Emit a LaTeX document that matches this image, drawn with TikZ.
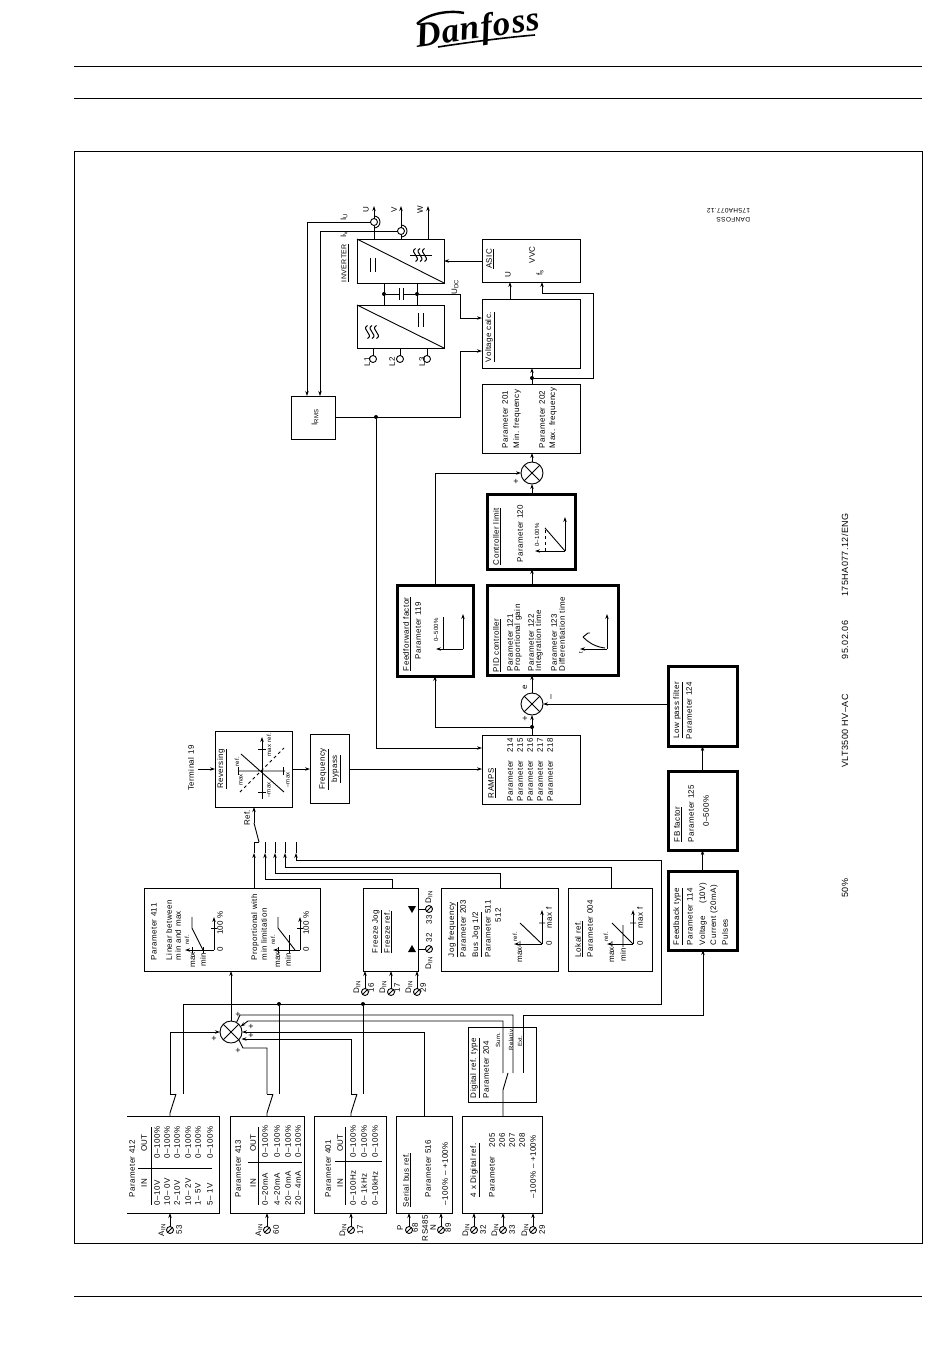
\documentclass[tikz,border=0pt]{standalone}
\usepackage{fontspec}
\setmainfont[LetterSpace=5]{Liberation Sans}
\newfontfamily\logofont[LetterSpace=3]{Liberation Serif}
\usetikzlibrary{
  arrows.meta
}
\newcommand{\ain}{A\textsubscript{IN}}
\newcommand{\din}{D\textsubscript{IN}}
\tikzset{
  wavesym/.pic={
    \foreach \dx in {-4.5,0,4.5} \draw[line width=1pt] (\dx,-6.5) .. controls (\dx-7,-2.5) and (\dx+7,2.5) .. (\dx,6.5);
  }
}
\begin{document}
\begin{tikzpicture}[x=1pt, y=-1pt, line width=.9pt, >={Stealth[length=5pt,width=3.4pt]},
    every node/.style={inner sep=0pt, outer sep=0pt, font=\fontsize{8}{9}\selectfont},
    lbl/.style={rotate=90, anchor=west},
    mid/.style={rotate=90, anchor=center},
    tiny/.style={rotate=90, anchor=center, font=\fontsize{6}{7}\selectfont},
    flip/.style={rotate=180, anchor=west, font=\fontsize{6.5}{7}\selectfont},
    big/.style={rotate=90, anchor=center, font=\fontsize{9}{10}\selectfont},
    field/.style={draw, minimum width=#1},
    heavy/.style={draw, line width=3pt},
    sumjoint/.style={draw, circle, minimum size=22pt, path picture={
      \draw (path picture bounding box.north west) -- (path picture bounding box.south east);
      \draw (path picture bounding box.north east) -- (path picture bounding box.south west);}},
    term/.style={draw, circle, minimum size=7pt, path picture={
      \draw (path picture bounding box.north east) -- (path picture bounding box.south west);}},
    ring/.style={draw, circle, minimum size=7pt},
    dotj/.style={fill, circle, minimum size=4pt}]
\fill[white] (0,0) rectangle (950,1360);
\useasboundingbox (0,0) rectangle (950,1360);
\draw (74,66) -- (922,66) (74,98) -- (922,98) (74,1296) -- (922,1296);
\draw (74,151) rectangle (922,1243);
\node [font=\logofont\bfseries\itshape\fontsize{35}{38}\selectfont, rotate=8] (logo) at (478,30) {Danfoss};
\draw [line width=2.4pt] (417,24) .. controls (428,13) and (450,10) .. (464,13);
\draw [line width=1.6pt] (438,47) .. controls (470,42) and (510,37) .. (535,35);
\node [field=87pt, minimum height=44pt] (inverter) at (400.5,261) {};
\node [field=87pt, minimum height=43pt] (rectifier) at (400.5,326.5) {};
\node [field=98pt, minimum height=43pt] (asic) at (531,260.5) {};
\node [field=98pt, minimum height=69pt] (vcalc) at (531,333.5) {};
\node [field=98pt, minimum height=69pt] (par201) at (531,418.5) {};
\node [field=44pt, minimum height=43pt] (irms) at (313,417.5) {};
\node [sumjoint] (sumtop) at (532,473) {};
\node [field=88pt, minimum height=75pt, heavy] (ctrl) at (531,531.5) {};
\node [field=131pt, minimum height=90pt, heavy] (pid) at (552.5,630) {};
\node [field=76pt, minimum height=91pt, heavy] (feedfwd) at (435,630.5) {};
\node [sumjoint] (summid) at (532,704) {};
\node [field=69pt, minimum height=80pt, heavy] (lowpass) at (702.5,706) {};
\node [field=69pt, minimum height=79pt, heavy] (fbfactor) at (702.5,810.5) {};
\node [field=69pt, minimum height=79pt, heavy] (fbtype) at (702.5,910.5) {};
\node [field=98pt, minimum height=69pt] (ramps) at (531,770) {};
\node [field=77pt, minimum height=76pt] (revers) at (253.5,769) {};
\node [field=39pt, minimum height=69pt] (bypass) at (329.5,769) {};
\node [field=176pt, minimum height=83pt] (par411) at (232,929.5) {};
\node [field=55pt, minimum height=83pt] (freeze) at (391,929.5) {};
\node [field=117pt, minimum height=83pt] (jog) at (499.5,929.5) {};
\node [field=84pt, minimum height=83pt] (lokal) at (610,929.5) {};
\node [sumjoint] (sumlow) at (231,1032) {};
\node [field=68pt, minimum height=75pt] (digtype) at (502,1064.5) {};
\node [minimum width=92pt, minimum height=97pt] (par412) at (173,1164.5) {};
\draw (par412.north west) -- (par412.north east) -- (par412.south east) -- (par412.south west);
\node [field=74pt, minimum height=97pt] (par413) at (267,1164.5) {};
\node [field=72pt, minimum height=97pt] (par401) at (350,1164.5) {};
\node [field=56pt, minimum height=97pt] (serial) at (424,1164.5) {};
\node [field=80pt, minimum height=97pt] (digital) at (502,1164.5) {};
\foreach \x/\y/\txt [count=\i] in {
  490/362/\underline{Voltage calc.},
  505/448/Parameter 201, 517/448/Min. frequency, 542/448/Parameter 202, 553/448/Max. frequency,
  497/565/\underline{Controller limit}, 520/562/Parameter 120,
  497/672/\underline{PID controller}, 510/671/Parameter 121, 518/671/Proportional gain,
  531/671/Parameter 122, 539/671/Integration time, 554/671/Parameter 123, 562/671/Differentiation time,
  407/671/\underline{Feedforward factor}, 418/659/Parameter 119,
  678/738/\underline{Low pass filter}, 689/739/Parameter 124,
  678/842/\underline{FB factor}, 691/842/Parameter 125,
  678/945/\underline{Feedback type}, 690/945/Parameter 114, 703/945/Voltage \quad\,(10V), 714/945/Current (20mA), 725/945/Pulses,
  492/798/\underline{RAMPS}, 510/801/Parameter\quad 214, 520/801/Parameter\quad 215, 530/801/Parameter\quad 216, 540/801/Parameter\quad 217, 550/801/Parameter\quad 218,
  154/960/Parameter 411, 169/960/Linear between, 178/960/min and max, 255/960/Proportional with, 264/960/min limitation,
  377/953/\underline{Freeze Jog}, 388/953/\underline{Freeze ref.},
  453/957/\underline{Jog frequency}, 463/957/Parameter 203, 477/957/{\underline{Bus Jog 1/2}}, 488/957/Parameter 511, 498/922/512,
  579/957/\underline{Lokal ref.}, 590/957/Parameter 004,
  132/1197/Parameter 412, 238/1197/Parameter 413, 328/1197/Parameter 401,
  407/1207/\underline{Serial bus ref.}, 428/1197/Parameter 516, 445/1205/--100\% -- +100\%,
  475/1197/\underline{4 x Digital ref.}, 492/1197/Parameter, 492/1147/205, 502/1147/206, 512/1147/207, 522/1147/208, 533/1198/--100\% -- +100\%,
  475/1098/\underline{Digital ref. type}, 486/1098/Parameter 204,
  157/1205/0--10V, 167/1205/10-- 0V, 177/1205/2--10V, 188/1205/10-- 2V, 198/1205/1-- 5V, 210/1205/5-- 1V,
  157/1158/0--100\%, 167/1158/0--100\%, 177/1158/0--100\%, 188/1158/0--100\%, 198/1158/0--100\%, 210/1158/0--100\%,
  265/1205/0--20mA, 277/1205/4--20mA, 288/1205/20-- 0mA, 298/1205/20-- 4mA,
  265/1157/0--100\%, 277/1157/0--100\%, 288/1157/0--100\%, 298/1157/0--100\%,
  353/1205/0--100Hz, 364/1205/0-- 1kHz, 375/1205/0--10kHz,
  353/1157/0--100\%, 364/1157/0--100\%, 375/1157/0--100\%
}
  \node [lbl] (lab\i) at (\x,\y) {\txt};
\foreach \x/\y/\txt [count=\i] in {
  191/768/Terminal 19, 222/769/\underline{Reversing}, 247/818/Ref.,
  324/769/\underline{Frequency}, 336/769/\underline{bypass},
  315/417/I\textsubscript{RMS}, 490/259/\underline{ASIC}, 532/255/VVC, 508/275/U, 540/273/f\textsubscript{s},
  455/287/U\textsubscript{DC}, 344/217/I\textsubscript{U}, 344/234/I\textsubscript{V},
  366/210/U, 394/210/V, 420/210/W, 367/362/L1, 392/362/L2, 422/362/L3,
  706/811/0--500\%, 525/687/e,
  144/1183/IN, 144/1143/OUT, 253/1183/IN, 253/1143/OUT, 340/1183/IN, 340/1143/OUT,
  357/987/\din, 371/988/16, 383/987/\din, 397/988/17, 409/987/\din, 423/988/29,
  429/963/\din, 429/938/32, 429/920/33, 429/897/\din,
  400/1228/P, 415/1228/68, 425/1228/RS485, 433/1228/N, 448/1228/89,
  193/960/max, 203/960/min, 220/923/100 \%, 220/949/0,
  278/960/max, 288/960/min, 306/923/100 \%, 306/949/0,
  549/918/max f, 549/943/0, 520/955/max, 640/918/max f, 640/943/0, 612/955/max, 623/955/min
}
  \node [mid] (mid\i) at (\x,\y) {\txt};
\foreach \x/\y/\txt [count=\i] in {
  269/745/max ref., 237/762/ref., 241/780/max, 269/790/--max, 288/780/--max,
  187/940/ref., 273/940/ref., 515/937/ref., 606/937/ref.,
  537/535/0--100\%, 436/630/0--500\%, 581/653/t,
  498/1040/Sum., 511/1040/Relativ, 520/1041/Ext.
}
  \node [tiny] (tiny\i) at (\x,\y) {\txt};
\foreach \x/\y/\txt [count=\i] in {845/731/VLT3500 HV--AC, 845/640/95.02.06, 845/555/{175HA077.12/ENG}, 845/888/50\%}
  \node [big] (big\i) at (\x,\y) {\txt};
\node [lbl, font=\fontsize{7}{8}\selectfont] (invlabel) at (345,282) {\underline{INVERTER}};
\node [flip] (stamp1) at (750,220) {DANFOSS};
\node [flip] (stamp2) at (750,211) {175HA077.12};
\foreach \x/\y [count=\i] in {516/482, 525/719, 238/1015, 251/1027, 251/1036, 238/1051, 214/1039}
  \node [font=\fontsize{9}{9}\selectfont] (plus\i) at (\x,\y) {+};
\node [mid, font=\fontsize{9}{9}\selectfont] (minus) at (552,697) {--};
\draw (357,239) -- (444,283) (357,305) -- (444,348);
\draw (370,258) -- (370,272) (375,258) -- (375,272) (418,313) -- (418,327) (423,313) -- (423,327);
\pic at (420,255) {wavesym};
\pic at (372,332) {wavesym};
\draw (410,255) -- (432,255);
\node [ring] (ringu) at (374,222) {};
\node [ring] (ringv) at (401,231) {};
\draw (ringu.south) ++(0,2.5) arc (90:-90:6);
\draw (ringv.south) ++(0,2.5) arc (90:-90:6);
\draw [->] (ringu.north) -- (374,206);
\draw [->] (ringv.north) -- (401,206);
\draw (ringu.south) -- (ringu.south |- inverter.north);
\draw (ringv.south) -- (ringv.south |- inverter.north);
\draw [->] (inverter.north -| 428,0) -- (428,206);
\coordinate (iubend) at (307,222);
\coordinate (ivbend) at (320,231);
\draw [->] (ringu.west) -- (iubend) -- (iubend |- irms.north);
\draw [->] (ringv.west) -- (ivbend) -- (ivbend |- irms.north);
\node [dotj] (dcleft) at (384,294) {};
\node [dotj] (dcright) at (417,294) {};
\draw (dcleft |- inverter.south) -- (dcleft |- rectifier.north);
\draw (dcright |- inverter.south) -- (dcright |- rectifier.north);
\draw (dcleft) -- (399,294) (403,294) -- (dcright);
\draw (399,288) -- (399,300) (403,288) -- (403,300);
\coordinate (udcbend) at (460,294);
\draw [->] (dcright) -- (udcbend) -- (udcbend |- 0,318) -- (vcalc.west |- 0,318);
\foreach \n/\x in {l1/373, l2/400, l3/427} {
  \node [ring] (\n) at (\x,359) {};
  \draw (\n.north) -- (\n.north |- rectifier.south);
}
\draw [->] (asic.west |- 0,261) -- (inverter.east |- 0,261);
\draw [->] (vcalc.north -| 510,0) -- (asic.south -| 510,0);
\node [dotj] (fsdot) at (532,378) {};
\draw [->] (par201.north -| fsdot) -- (vcalc.south -| fsdot);
\draw [->] (fsdot) -- (593,378) -- (593,293) -- (542,293) -- (asic.south -| 542,0);
\node [dotj] (irmsdot) at (376,417) {};
\draw [->] (irms.east |- irmsdot) -- (460,417) -- (460,351) -- (vcalc.west |- 0,351);
\draw [->] (irmsdot) -- (376,748) -- (ramps.west |- 0,748);
\draw [->] (sumtop.north) -- (sumtop.north |- par201.south);
\draw [->] (ctrl.north -| sumtop) -- (sumtop.south);
\draw [->] (pid.north -| sumtop) -- (ctrl.south -| sumtop);
\draw [->] (summid.north) -- (summid.north |- pid.south);
\node [dotj] (rampdot) at (532,727) {};
\draw [->] (ramps.north -| rampdot) -- (summid.south);
\draw [->] (rampdot) -- (435,727) -- (feedfwd.south);
\draw [->] (feedfwd.north) -- (feedfwd.north |- sumtop.west) -- (sumtop.west);
\draw [->] (lowpass.west |- summid) -- (summid.east);
\draw [->] (fbfactor.north) -- (lowpass.south);
\draw [->] (fbtype.north) -- (fbfactor.south);
\draw [->] (revers.east) -- (bypass.west);
\draw [->] (bypass.east) -- (ramps.west |- bypass.east);
\draw [->] (198,769) -- (revers.west);
\coordinate (refup) at (254,823);
\draw [->] (refup) -- (refup |- revers.south);
\draw (refup) -- (259,842);
\foreach \n/\x in {ra/254, rb/265, rc/275, rd/285, re/296} {
  \coordinate (\n) at (\x,842);
  \draw [->] (\x,860) -- (\x,853);
  \draw (\x,853) -- (\n);
}
\draw (ra) -- (259,842);
\draw (ra |- par411.north) -- (254,860);
\draw (freeze.north -| 392,0) -- (392,879) -- (265,879) -- (265,860);
\draw (jog.north -| 500,0) -- (500,873) -- (275,873) -- (275,860);
\draw (lokal.north -| 611,0) -- (611,867) -- (285,867) -- (285,860);
\node [dotj] (linkb) at (279,1004) {};
\node [dotj] (linkc) at (363,1004) {};
\draw (183,1094) -- (183,1004) -- (661,1004) -- (661,860) -- (296,860);
\draw (linkb) -- (279,1094) (linkc) -- (363,1094);
\draw [->] (sumlow.north) -- (sumlow.north |- par411.south);
\foreach \n/\bx/\x in {swa/par412/170, swb/par413/267, swc/par401/351} {
  \coordinate (\n) at (\x,1094);
  \draw (\n) -- ++(6,0);
  \draw (\bx.north -| \n) -- ++(0,-3) -- ++(6,-19);
}
\draw [->] (swa) -- (swa |- sumlow.west) -- (sumlow.west);
\draw (swb) -- (267,1048) -- (243,1048) -- (sumlow.-45);
\draw [->] (swc) -- (351,1039) -- (sumlow.-18 |- 0,1039);
\draw [->] (serial.north) -- (serial.north |- sumlow) -- (sumlow.east);
\coordinate (swd) at (503,1073);
\draw (digital.north -| swd) -- (503,1090) -- (508,1073);
\draw [->] (swd) -- (503,1021) -- (248,1021) -- (sumlow.30);
\draw (513,1073) -- (513,1015) -- (240,1015) -- (sumlow.60);
\draw [->] (523,1073) -- (523,1015) -- (703,1015) -- (703,950);
\foreach \n/\bx/\x/\pre/\num in {a53/par412/170/\ain/53, a60/par413/267/\ain/60, d17/par401/351/\din/17,
    d32/digital/474/\din/32, d33/digital/503/\din/33, d29/digital/533/\din/29} {
  \node [term] (t\n) at (\x,1230) {};
  \draw [->] (t\n.north) -- (t\n.north |- \bx.south);
  \node [mid] (pre\n) at (\x-8,1230) {\pre};
  \node [mid] (num\n) at (\x+9,1230) {\num};
}
\foreach \n/\x in {p68/409, n89/441} {
  \node [term] (t\n) at (\x,1230) {};
  \draw [->] (t\n.north) -- (t\n.north |- serial.south);
}
\foreach \n/\x in {f16/365, f17/391, f29/417} {
  \node [term] (t\n) at (\x,992) {};
  \draw [->] (t\n.north) -- (t\n.north |- freeze.south);
}
\node [term] (tf33) at (429,909) {};
\node [term] (tf32) at (429,949) {};
\draw (freeze.east |- tf33) -- (tf33.west) (freeze.east |- tf32) -- (tf32.west);
\fill (408,906) -- (416,906) -- (412,913) -- cycle;
\fill (408,952) -- (416,952) -- (412,945) -- cycle;
\draw (258,749) -- (266,749) (258,792) -- (266,792) (238.6,767) -- (238.6,775) (283,767) -- (283,775);
\draw [->] (262,799) -- (262,737);
\draw (238,771) -- (285,771) (241,754) -- (284,792);
\draw [dashed] (240,792) -- (284,748);
\draw [<-] (185,950) -- (214,950);
\draw [->] (214,950) -- (214,917);
\draw (203,950) -- (192,928) -- (192,917);
\draw (192,947) -- (192,953) (203,947) -- (203,953) (211,928) -- (217,928);
\draw [<-] (273,950) -- (300,950);
\draw [->] (300,950) -- (300,917);
\draw (295,950) -- (278,928) -- (278,917);
\draw (278,947) -- (278,953) (289,935) -- (289,953) (297,928) -- (303,928);
\draw [<-] (514,944) -- (542,944);
\draw [->] (542,944) -- (542,910);
\draw (542,944) -- (520,923) (520,941) -- (520,947) (539,923) -- (545,923);
\draw [<-] (607,944) -- (633,944);
\draw [->] (633,944) -- (633,910);
\draw (633,944) -- (612,923) (612,941) -- (612,947) (623,925) -- (623,947) (630,923) -- (636,923);
\draw [<-] (535,551) -- (565,551);
\draw [->] (565,551) -- (565,517);
\draw (565,551) -- (545,528);
\draw [dashed] (545,551) -- (545,527);
\draw [<-] (580,649) -- (607,649);
\draw [->] (607,649) -- (607,614);
\draw (583,637) .. controls (590,644) and (597,647) .. (605,648) (583,637) -- (588,633) -- (590,633);
\draw [<-] (436,649) -- (463,649);
\draw [->] (463,649) -- (463,614);
\draw (443,649) -- (443,617);
\draw (138,1168) -- (212,1168) (151,1127) -- (151,1205);
\draw (248,1162) -- (302,1162) (258,1127) -- (258,1205);
\draw (335,1161) -- (382,1161) (345,1127) -- (345,1205);
\end{tikzpicture}
\end{document}
